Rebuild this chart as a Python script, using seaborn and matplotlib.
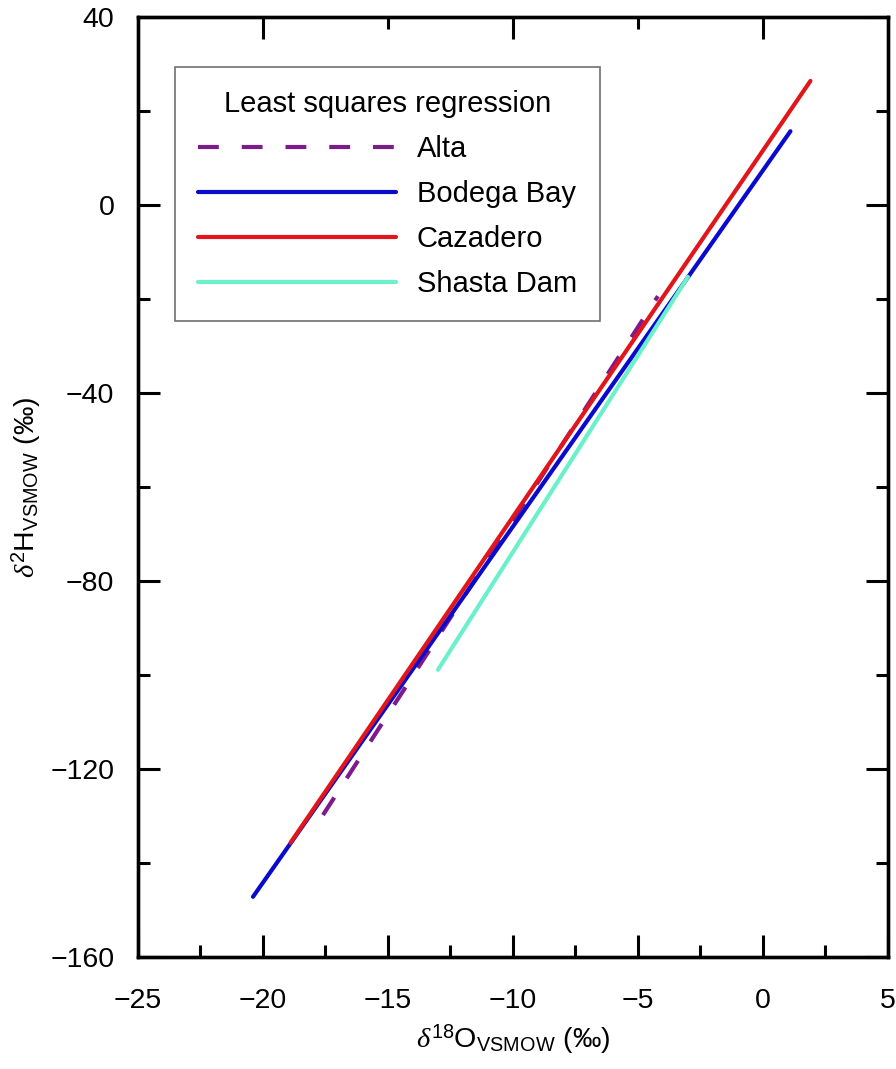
"""Least squares regression lines of d2H vs d18O for four sites."""

import matplotlib
matplotlib.use('Agg')
import matplotlib.pyplot as plt
from matplotlib.ticker import MultipleLocator, FixedLocator, NullFormatter
import seaborn as sns
import numpy as np
import pandas as pd


# Regression line end points
sites = ['Alta', 'Bodega Bay', 'Cazadero', 'Shasta Dam']
d18o_start = [-17.6, -20.4, -18.9, -13.0]
d18o_end = [-4.2, 1.1, 1.9, -3.0]
d2h_start = [-129.8, -147.2, -135.7, -98.9]
d2h_end = [-19.4, 15.7, 26.4, -15.3]

site_colors = {'Alta': '#7E1B8C', 'Bodega Bay': '#0A0ACF',
               'Cazadero': '#E0161B', 'Shasta Dam': '#6CF0CC'}
site_dashes = {'Alta': (5, 5.5), 'Bodega Bay': '', 'Cazadero': '', 'Shasta Dam': ''}

x_limits = (-25, 5)
y_limits = (-160, 40)


sns.set_style('ticks')
plt.rcParams['font.family'] = ['Liberation Sans', 'DejaVu Sans']
plt.rcParams['font.size'] = 21
plt.rcParams['text.color'] = 'black'
plt.rcParams['axes.labelcolor'] = 'black'
plt.rcParams['mathtext.fontset'] = 'custom'
plt.rcParams['mathtext.rm'] = 'Liberation Sans'
plt.rcParams['mathtext.it'] = 'Liberation Serif:italic'


df = pd.DataFrame({
    'site': sites + sites,
    'd18O': d18o_start + d18o_end,
    'd2H': d2h_start + d2h_end,
})

fig = plt.figure(figsize=(8.96, 10.69), dpi=100)
ax = fig.add_axes([0.154, 0.1048, 0.837, 0.8793])

sns.lineplot(data=df, x='d18O', y='d2H', hue='site', style='site',
             hue_order=sites, style_order=sites, palette=site_colors,
             dashes=site_dashes, linewidth=3, sort=False, ax=ax)

ax.set_xlim(*x_limits)
ax.set_ylim(*y_limits)

# Bottom/left/right ticks
ax.xaxis.set_major_locator(MultipleLocator(5))
ax.xaxis.set_minor_locator(MultipleLocator(2.5))
ax.yaxis.set_major_locator(MultipleLocator(40))
ax.yaxis.set_minor_locator(MultipleLocator(20))
ax.tick_params(which='both', direction='in', width=2.2, colors='black',
               right=True, top=False)
ax.tick_params(which='major', length=16, labelsize=20.5)
ax.tick_params(which='minor', length=8.5)
ax.tick_params(axis='x', which='major', pad=22)
ax.tick_params(axis='y', which='major', pad=17)

# Top axis has its own tick spacing
ax_top = ax.twiny()
ax_top.set_xlim(*x_limits)
ax_top.xaxis.set_major_locator(FixedLocator([-20, -10, 0]))
ax_top.xaxis.set_minor_locator(FixedLocator([-15, -5]))
ax_top.xaxis.set_major_formatter(NullFormatter())
ax_top.tick_params(which='both', direction='in', width=2.2, colors='black')
ax_top.tick_params(which='major', length=16)
ax_top.tick_params(which='minor', length=8.5)

for a in (ax, ax_top):
    for spine in a.spines.values():
        spine.set_linewidth(2.4)
        spine.set_color('black')
        spine.set_visible(True)

ax.set_xlabel(r'$\mathit{\delta}^{18}\mathrm{O}_{\mathrm{VSMOW}}$ (‰)', fontsize=20.5, labelpad=6)
ax.set_ylabel(r'$\mathit{\delta}^{2}\mathrm{H}_{\mathrm{VSMOW}}$ (‰)', fontsize=20.5, labelpad=5)

handles, labels = ax.get_legend_handles_labels()
ax.get_legend().remove()
leg = ax_top.legend(handles, labels, title='Least squares regression',
                    loc='upper left', bbox_to_anchor=(0.049, 0.947),
                    bbox_transform=ax.transAxes, borderaxespad=0,
                    fontsize=21, title_fontsize=21, frameon=True, fancybox=False,
                    edgecolor='#707070', framealpha=1, borderpad=0.8,
                    handlelength=6.8, handletextpad=0.7, labelspacing=0.58)
leg.get_frame().set_linewidth(1.2)
leg._legend_box.align = 'center'

fig.savefig('out.png', dpi=100)
